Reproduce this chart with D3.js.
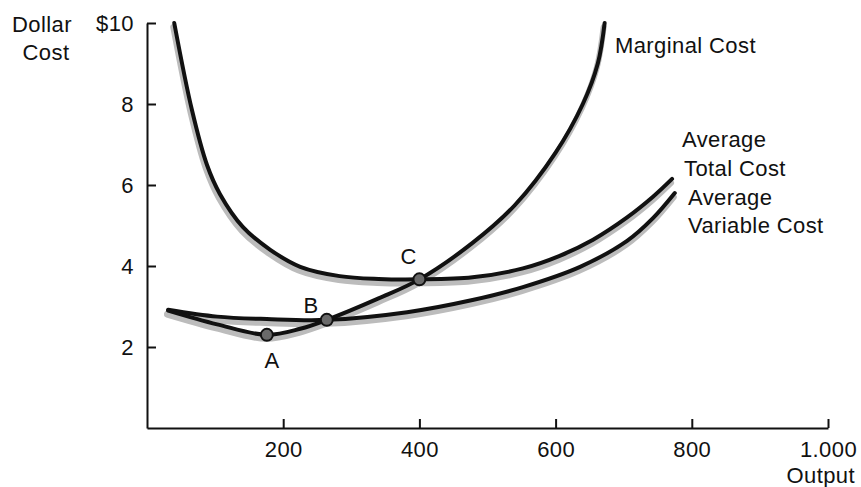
<!DOCTYPE html>
<html>
<head>
<meta charset="utf-8">
<script src="https://cdn.jsdelivr.net/npm/d3@7"></script>
<style>
  html, body { margin: 0; padding: 0; background: #fff; }
  svg { display: block; }
</style>
</head>
<body>
<svg id="chart" width="861" height="487"></svg>
<script>
// Cost curves: output (units) vs dollar cost per unit
const atcPoints = [
  [40, 10.0], [66, 7.85], [88, 6.50], [107, 5.78], [141, 4.96], [181, 4.40],
  [225, 3.98], [283, 3.75], [340, 3.68], [400, 3.67], [478, 3.72], [552, 3.94],
  [606, 4.25], [655, 4.65], [705, 5.20], [743, 5.71], [771, 6.15]
];
const avcPoints = [
  [31, 2.92], [103, 2.75], [176, 2.69], [264, 2.67], [382, 2.86], [478, 3.16],
  [552, 3.48], [636, 3.98], [705, 4.62], [743, 5.18], [775, 5.80]
];
const mcPoints = [
  [31, 2.90], [103, 2.56], [176, 2.30], [225, 2.45], [264, 2.67], [340, 3.20],
  [400, 3.67], [478, 4.57], [540, 5.50], [600, 6.80], [640, 8.00], [662, 9.00],
  [672, 10.0]
];

// Marked intersections
const markNames = ["A", "B", "C"];
const markPoints = [[176, 2.30], [264, 2.67], [400, 3.67]];

// Axis ticks
const xTicks = [200, 400, 600, 800, 1000];
const xTickLabels = ["200", "400", "600", "800", "1.000"];
const yTicks = [2, 4, 6, 8, 10];
const yTickLabels = ["2", "4", "6", "8", "$10"];

const FONT = "'Liberation Sans', Arial, Helvetica, sans-serif";
const FS = 22;
const LS = "0.4px";

const svg = d3.select("#chart");
const x = d3.scaleLinear().domain([0, 1000]).range([147, 828]);
const y = d3.scaleLinear().domain([0, 10]).range([428, 23]);

// Axes with ticks pointing into the plot
const yAxis = d3.axisLeft(y)
  .tickValues(yTicks)
  .tickFormat((d, i) => yTickLabels[i])
  .tickSizeInner(-9).tickSizeOuter(0).tickPadding(13);
const xAxis = d3.axisBottom(x)
  .tickValues(xTicks)
  .tickFormat((d, i) => xTickLabels[i])
  .tickSizeInner(-9).tickSizeOuter(0).tickPadding(13);

const gy = svg.append("g").attr("transform", `translate(${x(0)},0)`).call(yAxis);
const gx = svg.append("g").attr("transform", `translate(0,${y(0)})`).call(xAxis);
[gx, gy].forEach(g => {
  g.select(".domain").attr("stroke", "#111").attr("stroke-width", 2);
  g.selectAll(".tick line").attr("stroke", "#111").attr("stroke-width", 2);
  g.selectAll(".tick text")
    .attr("font-family", FONT).attr("font-size", FS)
    .attr("letter-spacing", LS).attr("fill", "#111");
});

// Curves: a grey offset shadow under a heavy black line
const line = d3.line()
  .x(d => x(d[0])).y(d => y(d[1]))
  .curve(d3.curveCatmullRom.alpha(0.5));

const curves = [atcPoints, avcPoints, mcPoints];
const shadow = svg.append("g").attr("transform", "translate(-1,4)");
curves.forEach(pts => {
  shadow.append("path").attr("d", line(pts))
    .attr("fill", "none").attr("stroke", "#bcbcbc")
    .attr("stroke-width", 6).attr("stroke-linecap", "round");
});
const ink = svg.append("g");
curves.forEach(pts => {
  ink.append("path").attr("d", line(pts))
    .attr("fill", "none").attr("stroke", "#111")
    .attr("stroke-width", 4).attr("stroke-linecap", "round");
});

// Points A, B, C
svg.append("g").selectAll("circle")
  .data(markPoints).join("circle")
  .attr("cx", d => x(d[0])).attr("cy", d => y(d[1])).attr("r", 6)
  .attr("fill", "#6a6a6a").attr("stroke", "#111").attr("stroke-width", 2);

const labelOffsets = [[5, 33], [-16, -7], [-11, -15]];
svg.append("g").selectAll("text")
  .data(markNames).join("text")
  .attr("x", (d, i) => x(markPoints[i][0]) + labelOffsets[i][0])
  .attr("y", (d, i) => y(markPoints[i][1]) + labelOffsets[i][1])
  .attr("text-anchor", "middle")
  .attr("font-family", FONT).attr("font-size", FS).attr("fill", "#111")
  .text(d => d);

// Text labels
const texts = [
  { t: "Dollar", x: 42, y: 32, a: "middle" },
  { t: "Cost", x: 46, y: 60, a: "middle" },
  { t: "Output", x: 855, y: 483, a: "end" },
  { t: "Marginal Cost", x: 615, y: 53, a: "start" },
  { t: "Average", x: 682, y: 147, a: "start" },
  { t: "Total Cost", x: 684, y: 176, a: "start" },
  { t: "Average", x: 688, y: 205, a: "start" },
  { t: "Variable Cost", x: 688, y: 233, a: "start" }
];
svg.append("g").selectAll("text")
  .data(texts).join("text")
  .attr("x", d => d.x).attr("y", d => d.y)
  .attr("text-anchor", d => d.a)
  .attr("font-family", FONT).attr("font-size", FS)
  .attr("letter-spacing", LS).attr("fill", "#111")
  .text(d => d.t);
</script>
</body>
</html>
